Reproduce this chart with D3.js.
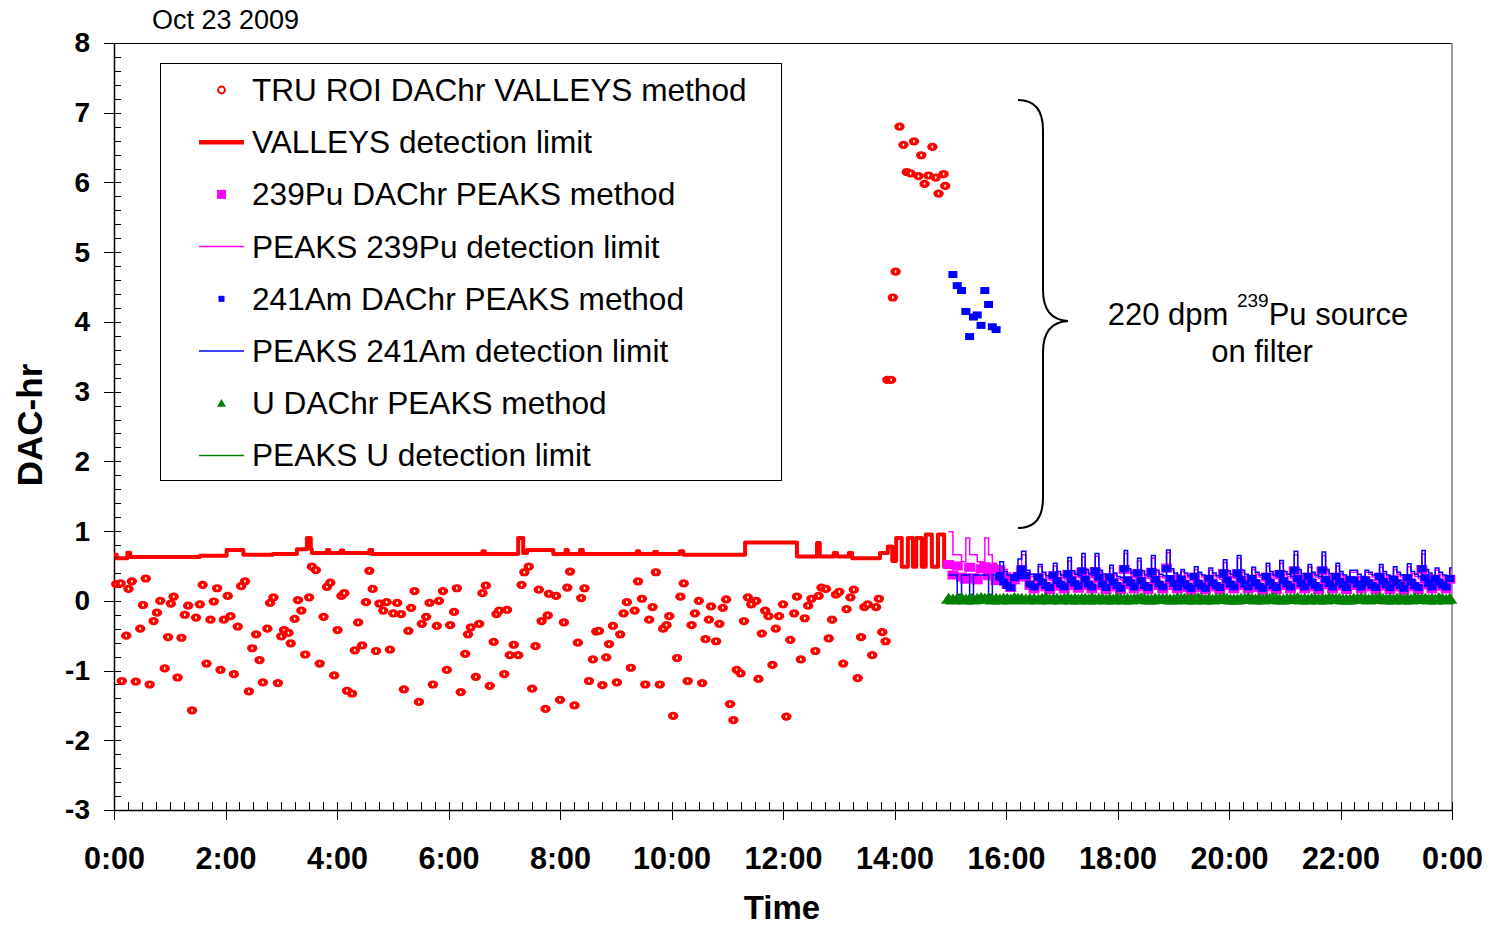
<!DOCTYPE html>
<html>
<head>
<meta charset="utf-8">
<script src="https://cdn.jsdelivr.net/npm/d3@7"></script>
<style>
  body { margin: 0; background: #fff; }
  svg { display: block; }
  text { font-family: "Liberation Sans", Arial, Helvetica, sans-serif; }
</style>
</head>
<body>
<svg width="1493" height="925"></svg>
<script>
// ---------------- data (hours of the day / DAC-hr) ----------------
var xTickHours  = [0, 2, 4, 6, 8, 10, 12, 14, 16, 18, 20, 22, 24];
var xTickLabels = ["0:00","2:00","4:00","6:00","8:00","10:00","12:00","14:00","16:00","18:00","20:00","22:00","0:00"];
var yTickValues = [-3, -2, -1, 0, 1, 2, 3, 4, 5, 6, 7, 8];

var legendLabels = ["TRU ROI DAChr VALLEYS method", "VALLEYS detection limit",
  "239Pu DAChr PEAKS method", "PEAKS 239Pu detection limit",
  "241Am DAChr PEAKS method", "PEAKS 241Am detection limit",
  "U DAChr PEAKS method", "PEAKS U detection limit"];

// TRU ROI DAChr, VALLEYS method (red circles)
var truTime = [0.04,0.12,0.14,0.22,0.26,0.32,0.39,0.47,0.52,0.57,0.64,0.71,0.77,0.83,0.91,0.97,1.02,1.07,1.14,1.21,
  1.27,1.33,1.40,1.47,1.54,1.59,1.66,1.73,1.79,1.85,1.91,1.97,2.04,2.09,2.15,2.22,2.28,2.35,2.42,2.48,
  2.55,2.61,2.67,2.75,2.80,2.86,2.94,3.00,3.05,3.13,3.17,3.24,3.30,3.36,3.43,3.50,3.55,3.62,3.69,3.76,
  3.82,3.88,3.95,4.01,4.08,4.13,4.18,4.27,4.32,4.38,4.45,4.52,4.58,4.64,4.70,4.76,4.83,4.89,4.95,5.01,
  5.08,5.15,5.20,5.28,5.33,5.39,5.47,5.52,5.60,5.66,5.72,5.79,5.83,5.90,5.97,6.03,6.10,6.15,6.22,6.30,
  6.35,6.40,6.49,6.55,6.61,6.67,6.74,6.81,6.86,6.91,7.00,7.05,7.10,7.17,7.25,7.31,7.36,7.44,7.50,7.56,
  7.62,7.67,7.74,7.78,7.80,7.93,8.00,8.07,8.13,8.18,8.26,8.32,8.38,8.44,8.52,8.59,8.65,8.70,8.76,8.83,
  8.88,8.95,9.02,9.08,9.14,9.20,9.27,9.34,9.40,9.47,9.53,9.60,9.66,9.72,9.79,9.85,9.91,9.96,10.03,10.10,
  10.16,10.22,10.29,10.36,10.42,10.49,10.55,10.61,10.67,10.71,10.80,10.86,10.92,10.98,11.05,11.11,11.17,11.24,11.30,11.37,
  11.43,11.52,11.56,11.62,11.68,11.74,11.81,11.87,11.93,12.00,12.06,12.13,12.20,12.25,12.32,12.39,12.45,12.51,12.58,12.64,
  12.69,12.77,12.82,12.88,12.95,13.01,13.08,13.14,13.21,13.27,13.34,13.40,13.46,13.52,13.60,13.67,13.72,13.78,13.84,
  13.87,13.94,13.97,14.02,14.09,14.16,14.22,14.29,14.35,14.43,14.48,14.54,14.61,14.68,14.74,14.79,14.88,14.91];
var truValue = [0.24,0.25,-1.15,-0.50,0.17,0.28,-1.16,-0.40,-0.06,0.32,-1.20,-0.29,-0.17,0.00,-0.97,-0.52,-0.04,0.06,-1.10,-0.53,
  -0.20,-0.07,-1.57,-0.24,-0.05,0.23,-0.90,-0.27,-0.01,0.18,-0.99,-0.27,0.07,-0.22,-1.05,-0.37,0.21,0.28,-1.30,-0.68,
  -0.48,-0.85,-1.17,-0.40,-0.03,0.05,-1.18,-0.51,-0.42,-0.46,-0.61,-0.26,0.01,-0.14,-0.77,0.05,0.49,0.44,-0.90,-0.23,
  0.20,0.26,-1.07,-0.42,0.07,0.11,-1.29,-1.33,-0.71,-0.31,-0.64,-0.02,0.43,0.17,-0.72,-0.04,-0.14,-0.02,-0.70,-0.18,
  -0.03,-0.19,-1.27,-0.43,-0.10,0.14,-1.45,-0.33,-0.23,-0.03,-1.20,-0.36,0.00,0.14,-0.99,-0.35,-0.16,0.18,-1.31,-0.76,
  -0.48,-0.38,-1.09,-0.33,0.11,0.22,-1.22,-0.59,-0.19,-0.14,-1.05,-0.13,-0.78,-0.63,-0.78,0.23,0.41,0.49,-1.26,-0.65,
  0.16,-0.29,-1.55,-0.21,0.10,0.07,-1.42,-0.31,0.19,0.42,-1.50,-0.60,0.04,0.18,-1.15,-0.84,-0.44,-0.43,-1.21,-0.81,
  -0.62,-0.36,-1.17,-0.48,-0.18,-0.02,-0.96,-0.14,0.28,0.03,-1.20,-0.27,-0.09,0.41,-1.20,-0.40,-0.35,-0.22,-1.65,-0.82,
  0.06,0.25,-1.15,-0.35,-0.18,0.00,-1.18,-0.55,-0.27,-0.08,-0.58,-0.33,-0.10,0.02,-1.48,-1.71,-0.99,-1.04,-0.29,0.05,
  -0.05,0.00,-1.12,-0.47,-0.14,-0.22,-0.92,-0.40,-0.22,-0.05,-1.66,-0.56,-0.18,0.06,-0.84,-0.25,-0.07,0.03,-0.72,0.07,
  0.19,0.17,-0.54,-0.27,0.09,0.13,-0.90,-0.12,0.05,0.16,-1.11,-0.52,-0.09,-0.05,-0.78,-0.09,0.03,-0.45,-0.58,
  3.17,3.17,4.35,4.72,6.80,6.54,6.15,6.13,6.59,6.09,6.39,5.98,6.10,6.51,6.07,5.84,6.12,5.95];

// VALLEYS detection limit (step values, red line)
var valleyTime  = [0.00,0.05,0.24,0.29,1.54,2.02,2.32,2.85,3.28,3.46,3.53,3.55,3.82,3.86,4.07,4.11,4.58,4.63,6.61,6.65,
  7.25,7.34,7.41,7.88,8.10,8.14,8.36,8.41,9.38,9.42,9.69,9.74,10.15,10.21,11.32,12.25,12.61,12.66,12.91,12.97,
  13.18,13.24,13.74,13.88,13.96,14.03,14.13,14.24,14.33,14.39,14.49,14.56,14.67,14.78,14.89,14.96];
var valleyValue = [0.66,0.61,0.69,0.63,0.645,0.73,0.66,0.67,0.74,0.90,0.74,0.685,0.73,0.685,0.72,0.685,0.73,0.67,0.71,0.67,
  0.90,0.685,0.73,0.67,0.73,0.67,0.73,0.67,0.71,0.67,0.70,0.67,0.71,0.66,0.835,0.635,0.83,0.635,0.685,0.635,
  0.685,0.61,0.685,0.78,0.57,0.90,0.49,0.90,0.49,0.90,0.49,0.95,0.49,0.95,0.49,0.49];

// PEAKS analysis cycles after the source was placed (start hour of each cycle)
var cycleStart = [14.97,15.28,15.62,15.89,16.28,16.58,16.85,17.11,17.36,17.60,17.86,18.12,18.36,18.61,18.88,19.14,19.38,19.64,19.90,20.15,
  20.41,20.67,20.91,21.17,21.42,21.67,21.92,22.17,22.44,22.70,22.95,23.20,23.46,23.70,23.96];

// 241Am DAChr, PEAKS method (blue squares), one row per cycle
var amRows = [[null,4.68,4.52,4.45],[4.15,3.79,4.07,4.10,3.95],[4.45,4.25,3.93,3.89],[0.36,0.27,0.22,0.19,0.33,0.36],
  [0.46,0.36,0.24,0.20],[0.34,0.27,0.22,0.19],[0.37,0.29,0.24,0.20],[0.39,0.30,0.25,0.21],[0.43,0.31,0.24,0.20],
  [0.43,0.34,0.24,0.19],[0.34,0.27,0.22,0.18],[0.46,0.30,0.26,0.20],[0.40,0.29,0.22,0.19],[0.42,0.31,0.24,0.20],
  [0.46,0.32,0.25,0.20],[0.31,0.25,0.21,0.18],[0.35,0.25,0.21,0.18],[0.32,0.26,0.22,0.19],[0.40,0.30,0.24,0.20],
  [0.40,0.31,0.24,0.20],[0.32,0.26,0.21,0.18],[0.35,0.27,0.22,0.19],[0.39,0.29,0.24,0.20],[0.44,0.32,0.25,0.20],
  [0.35,0.27,0.22,0.19],[0.44,0.31,0.25,0.20],[0.35,0.28,0.23,0.19],[0.30,0.30,0.24,0.20],[0.30,0.26,0.22,0.19],
  [0.35,0.28,0.23,0.19],[0.31,0.26,0.22,0.18],[0.33,0.27,0.22,0.19],[0.46,0.33,0.25,0.20],[0.32,0.27,0.23,0.20],
  [0.32,0.27,0.23,0.20]];
// PEAKS 241Am detection limit (blue line)
var amLimRows = [[0.37,0.37,0.09,0.37],[0.37,0.09,0.37,0.37,0.37],[0.37,0.09,0.37,0.30],[0.56,0.42,0.37,0.35,0.36,0.60],
  [0.71,0.44,0.38,0.35],[0.52,0.41,0.36,0.33],[0.54,0.42,0.37,0.34],[0.62,0.43,0.38,0.36],[0.68,0.45,0.39,0.36],
  [0.68,0.44,0.38,0.35],[0.51,0.40,0.35,0.33],[0.72,0.46,0.40,0.36],[0.61,0.43,0.37,0.35],[0.65,0.44,0.38,0.36],
  [0.73,0.46,0.40,0.37],[0.45,0.40,0.36,0.34],[0.49,0.41,0.37,0.35],[0.47,0.40,0.36,0.34],[0.59,0.43,0.38,0.35],
  [0.65,0.44,0.38,0.36],[0.48,0.41,0.37,0.34],[0.54,0.42,0.37,0.35],[0.58,0.42,0.38,0.35],[0.71,0.45,0.39,0.36],
  [0.52,0.41,0.37,0.35],[0.70,0.45,0.39,0.36],[0.54,0.42,0.37,0.35],[0.44,0.44,0.38,0.35],[0.44,0.41,0.37,0.35],
  [0.52,0.42,0.37,0.35],[0.49,0.41,0.37,0.34],[0.53,0.42,0.38,0.35],[0.72,0.45,0.40,0.36],[0.47,0.41,0.37,0.35],
  [0.47,0.42,0.38,0.36]];
// 239Pu DAChr, PEAKS method (magenta squares)
var puRows = [[0.52,0.37,0.50,0.34],[0.31,0.48,0.33,0.30,0.46],[0.49,0.36,0.47,0.29],[0.45,0.33,0.24,0.19,0.30,0.35],
  [0.44,0.34,0.22,0.17],[0.33,0.25,0.20,0.16],[0.36,0.27,0.21,0.17],[0.38,0.28,0.22,0.18],[0.41,0.30,0.22,0.17],
  [0.42,0.32,0.22,0.16],[0.33,0.25,0.20,0.16],[0.45,0.29,0.23,0.17],[0.39,0.27,0.20,0.16],[0.41,0.29,0.22,0.17],
  [0.47,0.30,0.22,0.17],[0.30,0.23,0.19,0.15],[0.34,0.24,0.19,0.16],[0.31,0.24,0.20,0.16],[0.39,0.28,0.22,0.17],
  [0.39,0.29,0.22,0.17],[0.31,0.24,0.19,0.15],[0.34,0.25,0.20,0.16],[0.38,0.27,0.22,0.17],[0.43,0.30,0.23,0.17],
  [0.34,0.25,0.20,0.16],[0.43,0.29,0.23,0.17],[0.34,0.26,0.21,0.16],[0.29,0.28,0.22,0.17],[0.29,0.24,0.20,0.16],
  [0.34,0.26,0.21,0.16],[0.30,0.24,0.20,0.15],[0.32,0.25,0.20,0.16],[0.45,0.31,0.23,0.17],[0.31,0.25,0.21,0.17],
  [0.31,0.25,0.21,0.17]];
// PEAKS 239Pu detection limit (magenta line)
var puLimRows = [[0.99,0.66,0.66,0.56],[0.90,0.66,0.66,0.56,0.56],[0.90,0.66,0.54,0.50],[0.50,0.45,0.40,0.36,0.34,0.50],
  [0.66,0.41,0.35,0.32],[0.49,0.38,0.33,0.30],[0.50,0.39,0.34,0.31],[0.57,0.40,0.35,0.33],[0.63,0.42,0.36,0.33],
  [0.64,0.41,0.35,0.32],[0.47,0.37,0.32,0.30],[0.68,0.43,0.37,0.33],[0.57,0.40,0.34,0.32],[0.61,0.41,0.35,0.33],
  [0.69,0.43,0.37,0.34],[0.42,0.37,0.33,0.31],[0.45,0.38,0.34,0.32],[0.44,0.37,0.33,0.31],[0.55,0.40,0.35,0.32],
  [0.61,0.41,0.35,0.33],[0.45,0.38,0.34,0.31],[0.50,0.39,0.34,0.32],[0.54,0.39,0.35,0.32],[0.66,0.42,0.36,0.33],
  [0.48,0.38,0.34,0.32],[0.65,0.42,0.36,0.33],[0.50,0.39,0.34,0.32],[0.41,0.41,0.35,0.32],[0.41,0.38,0.34,0.32],
  [0.48,0.39,0.34,0.32],[0.45,0.38,0.34,0.31],[0.49,0.39,0.35,0.32],[0.67,0.42,0.37,0.33],[0.44,0.38,0.34,0.32],
  [0.44,0.39,0.35,0.33]];
// U DAChr, PEAKS method (green triangles)
var uRows = [[0.01,0.00,0.01,0.02],[0.00,0.01,0.00,0.01,0.02],[0.01,0.02,0.00,0.01],[0.00,0.01,0.01,0.00,0.02,0.01],
  [0.01,0.00,0.01,0.01],[0.00,0.01,0.02,0.00],[0.01,0.01,0.00,0.01],[0.02,0.00,0.01,0.00],[0.01,0.01,0.00,0.02],
  [0.00,0.01,0.01,0.00],[0.01,0.00,0.02,0.01],[0.00,0.01,0.00,0.01],[0.01,0.02,0.01,0.00],[0.00,0.01,0.01,0.01],
  [0.01,0.00,0.00,0.02],[0.01,0.01,0.00,0.01],[0.00,0.02,0.01,0.00],[0.01,0.00,0.01,0.01],[0.02,0.01,0.00,0.00],
  [0.00,0.01,0.01,0.02],[0.01,0.00,0.01,0.00],[0.01,0.01,0.02,0.01],[0.00,0.00,0.01,0.01],[0.01,0.02,0.00,0.01],
  [0.00,0.01,0.01,0.00],[0.01,0.00,0.02,0.01],[0.01,0.01,0.00,0.00],[0.00,0.01,0.01,0.02],[0.01,0.00,0.01,0.01],
  [0.02,0.01,0.00,0.01],[0.00,0.01,0.01,0.00],[0.01,0.00,0.02,0.01],[0.01,0.01,0.00,0.01],[0.00,0.02,0.01,0.00],
  [0.01,0.00,0.01,0.01]];
// PEAKS U detection limit (green line), one value per cycle
var uLimit = [0.04,0.04,0.03,0.04,0.05,0.04,0.04,0.03,0.04,0.05,0.04,0.04,0.03,0.04,0.04,0.05,0.04,0.03,0.04,0.04,
  0.04,0.05,0.04,0.03,0.04,0.04,0.04,0.05,0.04,0.03,0.04,0.04,0.05,0.04,0.04];

// ---------------- chart ----------------
var svg = d3.select("svg");
var x = d3.scaleLinear().domain([0, 24]).range([114, 1452]);
var y = d3.scaleLinear().domain([-3, 8]).range([810, 43]);

var RED = "#ff0000", MAG = "#ff00ff", BLUE = "#0000ff", GREEN = "#008000";

// spread each cycle's samples evenly up to the next cycle
var samples = [];
cycleStart.forEach(function(t0, i) {
  var n = amRows[i].length;
  var t1 = i < cycleStart.length - 1 ? cycleStart[i + 1] : t0 + n * 0.0635;
  var step = (t1 - t0) / n;
  for (var k = 0; k < n; k++) {
    samples.push({t: t0 + k * step, am: amRows[i][k], amLim: amLimRows[i][k],
      pu: puRows[i][k], puLim: puLimRows[i][k], u: uRows[i][k], uLim: uLimit[i]});
  }
});
samples = samples.filter(function(d) { return d.t <= 24.02; });

svg.append("defs").append("clipPath").attr("id", "plotclip")
  .append("rect").attr("x", 114).attr("y", 43).attr("width", 1338).attr("height", 767);

var stepLine = d3.line().x(function(d) { return x(d.t); }).y(function(d) { return y(d.v); })
  .curve(d3.curveStepAfter);

function seriesLine(key) {
  var pts = samples.map(function(d) { return {t: d.t, v: d[key]}; });
  pts.push({t: 24, v: pts[pts.length - 1].v});
  return pts;
}

///////////////////// plot frame ////////////////////
svg.append("line").attr("x1", 104).attr("x2", 1452).attr("y1", 43.5).attr("y2", 43.5)
  .attr("stroke", "#000").attr("stroke-width", 1);
svg.append("line").attr("x1", 1452).attr("x2", 1452).attr("y1", 43).attr("y2", 810)
  .attr("stroke", "#808080").attr("stroke-width", 1.5);

///////////////////// X AXIS ////////////////////
svg.append("g")
  .attr("transform", "translate(0,810)")
  .call(d3.axisBottom(x).tickValues(d3.range(0, 24.01, 0.25)).tickSize(-8).tickSizeOuter(0).tickFormat(""))
  .call(function(g) { g.select(".domain").remove(); });

var xAxis = svg.append("g")
  .attr("transform", "translate(0,810)")
  .call(d3.axisBottom(x).tickValues(xTickHours).tickSize(10).tickSizeOuter(0).tickPadding(27)
    .tickFormat(function(d, i) { return xTickLabels[i]; }));
xAxis.selectAll("text").attr("font-size", "30.5px").attr("font-weight", "bold").attr("fill", "#000")
  .attr("font-family", '"Liberation Sans", Arial, sans-serif');

///////////////////// Y AXIS ////////////////////
svg.append("g")
  .attr("transform", "translate(114,0)")
  .call(d3.axisLeft(y).tickValues(d3.range(-3, 8.01, 0.2)).tickSize(-7).tickSizeOuter(0).tickFormat(""))
  .call(function(g) { g.select(".domain").remove(); });

var yAxis = svg.append("g")
  .attr("transform", "translate(114,0)")
  .call(d3.axisLeft(y).tickValues(yTickValues).tickSize(10).tickSizeOuter(0).tickPadding(14)
    .tickFormat(d3.format("d")));
yAxis.selectAll("text").attr("font-size", "28px").attr("font-weight", "bold").attr("fill", "#000")
  .attr("font-family", '"Liberation Sans", Arial, sans-serif')
  .text(function(d) { return String(d).replace("\u2212", "-"); });

svg.selectAll(".tick line").attr("stroke", "#000").attr("stroke-width", 1).attr("shape-rendering", "crispEdges");
svg.selectAll(".domain").attr("stroke", "#000").attr("stroke-width", 1.5);

///////////////////// titles ////////////////////
svg.append("text").attr("x", 782).attr("y", 919).attr("text-anchor", "middle")
  .attr("font-size", "33px").attr("font-weight", "bold").text("Time");
svg.append("text").attr("transform", "translate(42,425)rotate(-90)").attr("text-anchor", "middle")
  .attr("font-size", "35px").attr("font-weight", "bold").text("DAC-hr");
svg.append("text").attr("x", 152).attr("y", 29).attr("font-size", "27px").text("Oct 23 2009");

///////////////////// series ////////////////////
var plot = svg.append("g");

// TRU ROI circles
var tru = plot.append("g").selectAll("g").data(truTime).enter().append("g")
  .attr("transform", function(d, i) { return "translate(" + x(d) + "," + y(truValue[i]) + ")"; });
tru.append("ellipse").attr("rx", 5.2).attr("ry", 4.1).attr("fill", RED);
tru.append("ellipse").attr("rx", 0.9).attr("ry", 1.4).attr("fill", "#fff");

// VALLEYS detection limit
var valleyPts = valleyTime.map(function(t, i) { return {t: t, v: valleyValue[i]}; });
plot.append("path").datum(valleyPts).attr("d", stepLine)
  .attr("fill", "none").attr("stroke", RED).attr("stroke-width", 4).attr("stroke-linejoin", "round");

// 239Pu squares + limit
plot.append("g").selectAll("rect").data(samples.filter(function(d) { return d.pu != null; }))
  .enter().append("rect")
  .attr("x", function(d) { return x(d.t) - 5.5; }).attr("y", function(d) { return y(d.pu) - 4.5; })
  .attr("width", 11).attr("height", 9).attr("fill", MAG);
plot.append("path").datum(seriesLine("puLim")).attr("d", stepLine).attr("clip-path", "url(#plotclip)")
  .attr("fill", "none").attr("stroke", MAG).attr("stroke-width", 1.5);

// 241Am squares + limit
plot.append("g").selectAll("rect").data(samples.filter(function(d) { return d.am != null; }))
  .enter().append("rect")
  .attr("x", function(d) { return x(d.t) - 4.5; }).attr("y", function(d) { return y(d.am) - 3.5; })
  .attr("width", 9).attr("height", 7).attr("fill", BLUE);
plot.append("path").datum(seriesLine("amLim")).attr("d", stepLine).attr("clip-path", "url(#plotclip)")
  .attr("fill", "none").attr("stroke", BLUE).attr("stroke-width", 1.5);

// U triangles + limit
var tri = d3.symbol().type(d3.symbolTriangle).size(70);
plot.append("g").selectAll("path").data(samples).enter().append("path")
  .attr("d", tri)
  .attr("transform", function(d) { return "translate(" + x(d.t) + "," + y(d.u) + ")scale(1.2,1)"; })
  .attr("fill", GREEN);
plot.append("path").datum(seriesLine("uLim")).attr("d", stepLine).attr("clip-path", "url(#plotclip)")
  .attr("fill", "none").attr("stroke", GREEN).attr("stroke-width", 1.5);

///////////////////// annotation ////////////////////
svg.append("path")
  .attr("d", "M1018,100 C1035,100 1043,110 1043,130 L1043,290 C1043,308 1050,320 1068,321 " +
             "C1050,322 1043,334 1043,352 L1043,498 C1043,518 1035,528 1018,528")
  .attr("fill", "none").attr("stroke", "#000").attr("stroke-width", 2);

var note = svg.append("text").attr("x", 1258).attr("y", 325).attr("text-anchor", "middle")
  .attr("font-size", "31px");
note.append("tspan").text("220 dpm ");
note.append("tspan").attr("font-size", "19px").attr("dy", -18).text("239");
note.append("tspan").attr("dy", 18).text("Pu source");
svg.append("text").attr("x", 1262).attr("y", 362).attr("text-anchor", "middle")
  .attr("font-size", "31px").text("on filter");

///////////////////// legend ////////////////////
var legend = svg.append("g");
legend.append("rect").attr("x", 160.5).attr("y", 63.5).attr("width", 621).attr("height", 417)
  .attr("fill", "#fff").attr("stroke", "#000").attr("stroke-width", 1);

var legendStyle = [
  {kind: "circle", color: RED}, {kind: "line", color: RED, w: 4.5},
  {kind: "square", color: MAG, s: 9}, {kind: "line", color: MAG, w: 1.5},
  {kind: "square", color: BLUE, s: 6}, {kind: "line", color: BLUE, w: 1.5},
  {kind: "triangle", color: GREEN}, {kind: "line", color: GREEN, w: 1.5}];

legendLabels.forEach(function(label, i) {
  var cy = 90 + i * 52.2, st = legendStyle[i];
  if (st.kind === "line") {
    legend.append("line").attr("x1", 199).attr("x2", 244).attr("y1", cy).attr("y2", cy)
      .attr("stroke", st.color).attr("stroke-width", st.w);
  } else if (st.kind === "circle") {
    legend.append("circle").attr("cx", 221.5).attr("cy", cy).attr("r", 3.4)
      .attr("fill", "#fff").attr("stroke", st.color).attr("stroke-width", 2);
  } else if (st.kind === "square") {
    legend.append("rect").attr("x", 221.5 - st.s / 2).attr("y", cy - st.s / 2)
      .attr("width", st.s).attr("height", st.s).attr("fill", st.color);
  } else {
    legend.append("path").attr("d", d3.symbol().type(d3.symbolTriangle).size(34))
      .attr("transform", "translate(221.5," + (cy + 1) + ")").attr("fill", st.color);
  }
  legend.append("text").attr("x", 252).attr("y", cy).attr("dy", "0.35em")
    .attr("font-size", "31.6px").text(label);
});
</script>
</body>
</html>
